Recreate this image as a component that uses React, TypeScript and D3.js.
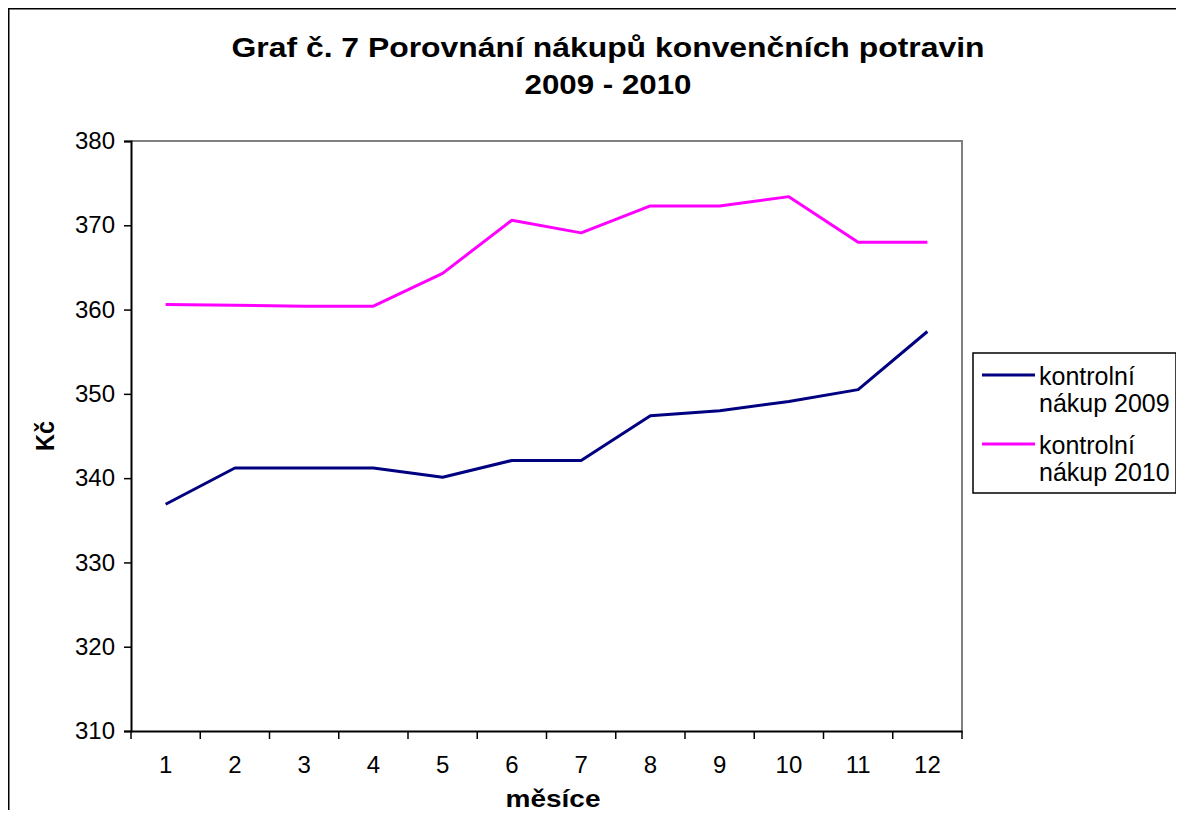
import React, { useEffect, useRef } from 'react';
import * as d3 from 'd3';

const months = ['1', '2', '3', '4', '5', '6', '7', '8', '9', '10', '11', '12'];
const purchase2009 = [336.9, 341.2, 341.2, 341.2, 340.1, 342.1, 342.1, 347.4, 348.0, 349.1, 350.5, 357.4];
const purchase2010 = [360.6, 360.5, 360.4, 360.4, 364.3, 370.6, 369.1, 372.3, 372.3, 373.4, 368.0, 368.0];
const yTicks = [310, 320, 330, 340, 350, 360, 370, 380];
const seriesNames = [['kontrolní', 'nákup 2009'], ['kontrolní', 'nákup 2010']];
const seriesColors = ['#000080', '#ff00ff'];

const W = 1184;
const H = 818;
const plot = { left: 131, right: 962, top: 141, bottom: 731 };

const App = () => {
  const chartRef = useRef<SVGSVGElement>(null);

  useEffect(() => {
    const svg = d3.select(chartRef.current);
    svg.selectAll('*').remove();
    const font = 'Arial, "Liberation Sans", sans-serif';

    // outer frame
    svg.append('rect')
      .attr('x', 8).attr('y', 8).attr('width', 1174).attr('height', 830)
      .attr('fill', '#fff').attr('stroke', '#000').attr('stroke-width', 3);

    const x = d3.scaleBand().domain(months).range([plot.left, plot.right]);
    const y = d3.scaleLinear().domain([310, 380]).range([plot.bottom, plot.top]);

    // title (the original is stretched horizontally)
    const title = svg.append('text')
      .attr('text-anchor', 'middle')
      .attr('font-family', font).attr('font-weight', 'bold').attr('font-size', 28)
      .attr('fill', '#000');
    title.append('tspan').attr('x', 608).attr('y', 57)
      .attr('textLength', 753).attr('lengthAdjust', 'spacingAndGlyphs')
      .text('Graf č. 7 Porovnání nákupů konvenčních potravin');
    title.append('tspan').attr('x', 608).attr('y', 94)
      .attr('textLength', 167).attr('lengthAdjust', 'spacingAndGlyphs')
      .text('2009 - 2010');

    // plot frame (top/right grey)
    svg.append('path')
      .attr('d', `M${plot.left},${plot.top}H${plot.right}V${plot.bottom}`)
      .attr('fill', 'none').attr('stroke', '#808080').attr('stroke-width', 2);

    // y axis
    const yAxis = svg.append('g')
      .attr('transform', `translate(${plot.left},0)`)
      .call(d3.axisLeft(y).tickValues(yTicks).tickSize(7).tickPadding(9).tickFormat(d3.format('d')));
    yAxis.select('.domain').attr('stroke', '#000').attr('stroke-width', 2);
    yAxis.selectAll('.tick line').attr('stroke', '#000').attr('stroke-width', 1.5);
    yAxis.selectAll('text').attr('font-family', font).attr('font-size', 24).attr('fill', '#000');

    // x axis: ticks at band boundaries
    const xAxis = svg.append('g')
      .attr('transform', `translate(0,${plot.bottom})`)
      .call(d3.axisBottom(x).tickSize(0).tickPadding(25));
    xAxis.select('.domain').attr('stroke', '#000').attr('stroke-width', 2);
    xAxis.selectAll('text').attr('font-family', font).attr('font-size', 24).attr('fill', '#000');
    const bounds = months.map((m) => x(m) as number).concat([plot.right]);
    xAxis.selectAll('.bound')
      .data(bounds)
      .enter()
      .append('line')
      .attr('x1', (d) => d).attr('x2', (d) => d)
      .attr('y1', 0).attr('y2', 8)
      .attr('stroke', '#000').attr('stroke-width', 1.5);

    // axis titles
    svg.append('text')
      .attr('x', 553).attr('y', 807)
      .attr('text-anchor', 'middle')
      .attr('textLength', 95).attr('lengthAdjust', 'spacingAndGlyphs')
      .attr('font-family', font).attr('font-weight', 'bold').attr('font-size', 24)
      .text('měsíce');
    svg.append('text')
      .attr('transform', `translate(54,${(plot.top + plot.bottom) / 2}) rotate(-90)`)
      .attr('text-anchor', 'middle')
      .attr('textLength', 30).attr('lengthAdjust', 'spacingAndGlyphs')
      .attr('font-family', font).attr('font-weight', 'bold').attr('font-size', 25)
      .text('Kč');

    // lines
    const line = d3.line<number>()
      .x((_, i) => (x(months[i]) as number) + x.bandwidth() / 2)
      .y((d) => y(d));
    [purchase2009, purchase2010].forEach((series, i) => {
      svg.append('path')
        .datum(series)
        .attr('d', line)
        .attr('fill', 'none')
        .attr('stroke', seriesColors[i])
        .attr('stroke-width', 3)
        .attr('stroke-linejoin', 'round');
    });

    // legend
    const lg = svg.append('g').attr('transform', 'translate(973,353)');
    lg.append('rect')
      .attr('width', 203).attr('height', 140)
      .attr('fill', '#fff').attr('stroke', '#000').attr('stroke-width', 1.5);
    seriesNames.forEach((names, i) => {
      const top = i * 69;
      lg.append('line')
        .attr('x1', 9).attr('x2', 62).attr('y1', top + 22).attr('y2', top + 22)
        .attr('stroke', seriesColors[i]).attr('stroke-width', 3);
      const t = lg.append('text')
        .attr('font-family', font).attr('font-size', 25).attr('fill', '#000');
      names.forEach((n, j) => {
        t.append('tspan').attr('x', 66).attr('y', top + 32 + j * 27).text(n);
      });
    });
  }, []);

  return <svg ref={chartRef} width={W} height={H} style={{ display: 'block', margin: '-8px' }}></svg>;
};

export default App;
